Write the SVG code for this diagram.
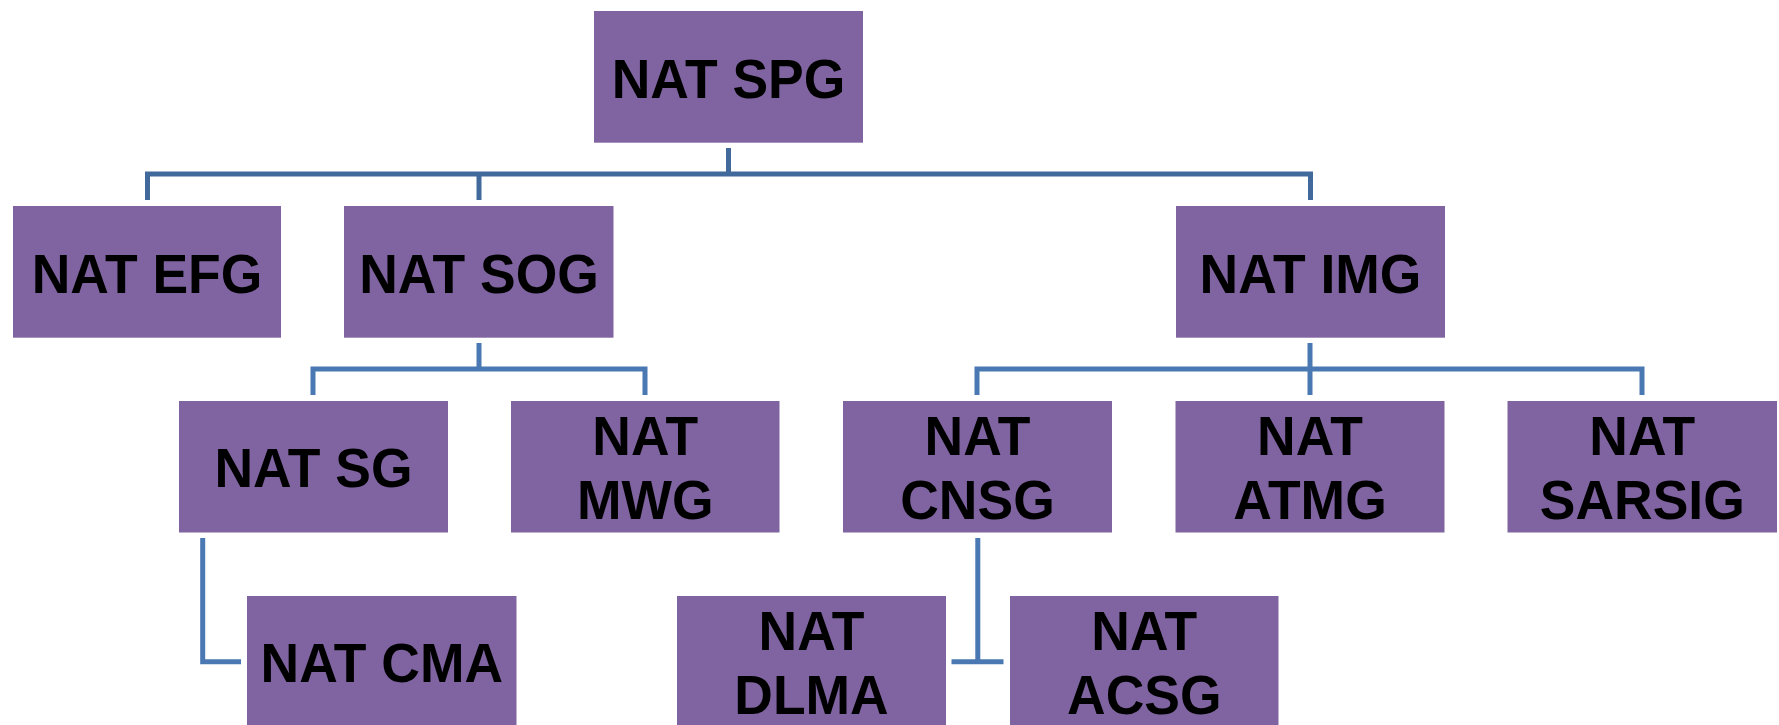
<svg xmlns="http://www.w3.org/2000/svg" width="1779" height="725" viewBox="0 0 1779 725">
<style>
.box{fill:#8064A2}
.lbl{font-family:"Liberation Sans",Arial,sans-serif;font-weight:bold;font-size:56px;fill:#000;text-anchor:middle}
.c1{fill:none;stroke:#41699C;stroke-width:5}
.c2{fill:none;stroke:#4A78B2;stroke-width:5}
</style>
<rect width="1779" height="725" fill="#fff"/>
<g id="connectors">
<path class="c1" d="M728.5,148 V174"/>
<path class="c1" d="M147.5,200 V174 H1310.5 V200"/>
<path class="c1" d="M479,174 V200"/>
<path class="c2" d="M479,343 V369"/>
<path class="c2" d="M313,395 V369 H645 V395"/>
<path class="c2" d="M1310,343 V395"/>
<path class="c2" d="M977,395 V369 H1642 V395"/>
<path class="c2" d="M202.7,538 V661.7 H241"/>
<path class="c2" d="M977.8,538 V661.7"/>
<path class="c2" d="M951.5,661.7 H1003.5"/>
</g>
<g id="spg"><rect class="box" x="594" y="11" width="269" height="131.7"/><text class="lbl" transform="translate(728.5,97.7) scale(0.955,1)">NAT SPG</text></g>
<g id="efg"><rect class="box" x="13" y="206" width="268" height="131.7"/><text class="lbl" transform="translate(147,292.7) scale(0.955,1)">NAT EFG</text></g>
<g id="sog"><rect class="box" x="344" y="206" width="269.5" height="131.7"/><text class="lbl" transform="translate(479,292.7) scale(0.955,1)">NAT SOG</text></g>
<g id="img"><rect class="box" x="1176" y="206" width="269" height="131.7"/><text class="lbl" transform="translate(1310.5,292.7) scale(0.955,1)">NAT IMG</text></g>
<g id="sg"><rect class="box" x="179" y="401" width="269" height="131.5"/><text class="lbl" transform="translate(313.5,487) scale(0.955,1)">NAT SG</text></g>
<g id="mwg"><rect class="box" x="511" y="401" width="268.5" height="131.5"/><text class="lbl" transform="translate(645.3,455) scale(0.955,1)">NAT</text><text class="lbl" transform="translate(645.3,519.3) scale(0.955,1)">MWG</text></g>
<g id="cnsg"><rect class="box" x="843" y="401" width="269" height="131.5"/><text class="lbl" transform="translate(977.5,455) scale(0.955,1)">NAT</text><text class="lbl" transform="translate(977.5,519.3) scale(0.955,1)">CNSG</text></g>
<g id="atmg"><rect class="box" x="1175.5" y="401" width="269" height="131.5"/><text class="lbl" transform="translate(1310,455) scale(0.955,1)">NAT</text><text class="lbl" transform="translate(1310,519.3) scale(0.955,1)">ATMG</text></g>
<g id="sarsig"><rect class="box" x="1507.5" y="401" width="269.5" height="131.5"/><text class="lbl" transform="translate(1642.3,455) scale(0.955,1)">NAT</text><text class="lbl" transform="translate(1642.3,519.3) scale(0.955,1)">SARSIG</text></g>
<g id="cma"><rect class="box" x="247" y="596" width="269.5" height="132"/><text class="lbl" transform="translate(381.8,682.3) scale(0.955,1)">NAT CMA</text></g>
<g id="dlma"><rect class="box" x="677" y="596" width="269" height="132"/><text class="lbl" transform="translate(811.5,650) scale(0.955,1)">NAT</text><text class="lbl" transform="translate(811.5,714) scale(0.955,1)">DLMA</text></g>
<g id="acsg"><rect class="box" x="1010" y="596" width="268.5" height="132"/><text class="lbl" transform="translate(1144.3,650) scale(0.955,1)">NAT</text><text class="lbl" transform="translate(1144.3,714) scale(0.955,1)">ACSG</text></g>
</svg>
